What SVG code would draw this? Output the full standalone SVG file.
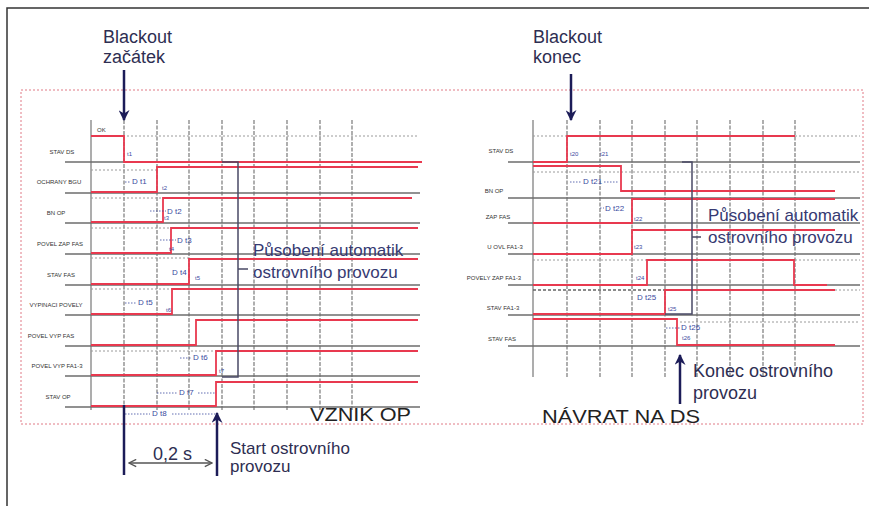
<svg xmlns="http://www.w3.org/2000/svg" width="869" height="506" viewBox="0 0 869 506">
<defs>
<style>
.frame{fill:none;stroke:#333;stroke-width:1.5}
.rframe{fill:none;stroke:#e07a86;stroke-width:1;stroke-dasharray:2,2}
.base{stroke:#6e6e6e;stroke-width:1.6;fill:none}
.vg{stroke:#7a7a7a;stroke-width:1.2;stroke-dasharray:4,1.5;fill:none}
.vs{stroke:#8a8a8a;stroke-width:1.4;fill:none}
.dl{stroke:#9a9a9a;stroke-width:1;stroke-dasharray:2,2;fill:none}
.dd{stroke:#666;stroke-width:1.3;stroke-dasharray:3,2;fill:none}
.sig{stroke:#e8394f;stroke-width:1.8;fill:none}
.br{stroke:#4a4a66;stroke-width:1.5;fill:none}
.arr{stroke:#1c1c58;stroke-width:2.5;fill:none}
.lab{font-family:"Liberation Sans",Arial,sans-serif;font-size:6px;fill:#333;text-anchor:middle}
.sm{font-family:"Liberation Sans",Arial,sans-serif;font-size:6px;fill:#3b4aa0}
.dt{font-family:"Liberation Sans",Arial,sans-serif;font-size:8px;fill:#3b4aa0}
.bl{stroke:#3b4aa0;stroke-width:0.8;stroke-dasharray:1.5,1.5;fill:none}
.big{font-family:"Liberation Sans",Arial,sans-serif;font-size:17px;fill:#363a72}
.nav{font-family:"Liberation Sans",Arial,sans-serif;font-size:18px;fill:#2e2e52}
.ttl{font-family:"Liberation Sans",Arial,sans-serif;font-size:18px;fill:#222}
</style>
<marker id="ah" viewBox="0 0 10 10" refX="9" refY="5" markerWidth="11" markerHeight="11" markerUnits="userSpaceOnUse" orient="auto">
<path d="M0,0 L10,5 L0,10 L3,5 Z" fill="#1c1c58"/>
</marker>
<marker id="ch" viewBox="0 0 10 10" refX="9" refY="5" markerWidth="9" markerHeight="9" markerUnits="userSpaceOnUse" orient="auto-start-reverse">
<path d="M1,1 L9,5 L1,9" fill="none" stroke="#555" stroke-width="1.5"/>
</marker>
</defs>
<rect width="869" height="506" fill="#fff"/>
<path class="frame" d="M7,506 V8 H869"/>
<rect class="rframe" x="21" y="90" width="842" height="334"/>

<!-- LEFT PANEL -->
<g id="left-grid">
<path class="vs" d="M91,120 V410"/>
<path class="vg" d="M124,120 V410 M157,120 V410 M189,120 V410 M222,120 V410 M254,120 V410 M287,120 V410 M320,120 V410 M352,120 V410"/>
<path class="base" d="M65,162 H422 M65,193 H420 M65,223 H420 M65,254 H420 M65,285 H420 M65,315 H420 M65,346 H420 M65,376 H420 M65,407 H420"/>
<path class="dl" d="M91,136 H418 M91,170 H157 M91,198 H163 M91,228 H171 M91,258 H189 M91,289 H172 M91,351 H216"/>
</g>
<g id="left-labels">
<text class="lab" x="62" y="154">STAV DS</text>
<text class="lab" x="59" y="184">OCHRANY BGU</text>
<text class="lab" x="56" y="215">BN OP</text>
<text class="lab" x="60" y="246">POVEL ZAP FAS</text>
<text class="lab" x="61" y="277">STAV FAS</text>
<text class="lab" x="56" y="307">VYPINACI POVELY</text>
<text class="lab" x="51" y="338">POVEL VYP FAS</text>
<text class="lab" x="57" y="368">POVEL VYP FA1-3</text>
<text class="lab" x="58" y="399">STAV OP</text>
<text x="97" y="132" style="font-family:'Liberation Sans',Arial,sans-serif;font-size:6px;fill:#333">OK</text>
</g>
<g id="left-signals">
<path class="sig" d="M91,136 H124 V162 H422"/>
<path class="sig" d="M91,192 H157 V167 H418"/>
<path class="sig" d="M91,222 H163 V198 H412"/>
<path class="sig" d="M91,253 H171 V228 H418"/>
<path class="sig" d="M91,284 H189 V259 H418"/>
<path class="sig" d="M91,314 H172 V289 H418"/>
<path class="sig" d="M91,345 H196 V320 H418"/>
<path class="sig" d="M91,375 H216 V351 H418"/>
<path class="sig" d="M91,406 H216 V382 H418"/>
</g>
<g id="left-deltas">
<text class="sm" x="127" y="156">t1</text>
<path class="bl" d="M125,182 H131"/><text class="dt" x="132" y="184">D t1</text>
<text class="sm" x="162" y="190">t2</text>
<path class="bl" d="M150,211 H166"/><text class="dt" x="167" y="214">D t2</text>
<text class="sm" x="164" y="220">t3</text>
<path class="bl" d="M160,240 H176"/><text class="dt" x="177" y="243">D t3</text>
<text class="sm" x="169" y="251">t4</text>
<text class="dt" x="172" y="275">D t4</text>
<text class="sm" x="195" y="280">t5</text>
<path class="bl" d="M125,303 H137"/><text class="dt" x="138" y="305">D t5</text>
<text class="sm" x="166" y="312">t6</text>
<path class="bl" d="M180,358 H192"/><text class="dt" x="193" y="360">D t6</text>
<text class="sm" x="219" y="373">t7</text>
<path class="bl" d="M157,393 H177 M198,393 H215"/><text class="dt" x="179" y="395">D t7</text>
<path class="bl" d="M125,414 H150 M172,414 H215"/><text class="dt" x="152" y="416">D t8</text>
</g>
<g id="left-bracket">
<path class="br" d="M222,162 H238 V377 H222 M238,269 H248"/>
<text class="big" x="253" y="256">Působení automatik</text>
<text class="big" x="253" y="278">ostrovního provozu</text>
</g>
<g id="blackout-start">
<text class="nav" x="103" y="43">Blackout</text>
<text class="nav" x="103" y="63">začátek</text>
</g>
<g id="start-op">
<text class="nav" x="230" y="454" style="font-size:17px">Start ostrovního</text>
<text class="nav" x="230" y="472" style="font-size:17px">provozu</text>
</g>
<g id="dur">
<text class="nav" x="153" y="460">0,2 s</text>
</g>
<text class="ttl" x="310" y="421" textLength="101" lengthAdjust="spacingAndGlyphs">VZNIK OP</text>

<!-- RIGHT PANEL -->
<g id="right-grid">
<path class="vs" d="M533,120 V377"/>
<path class="vg" d="M567,120 V377 M600,120 V377 M632,120 V377 M665,120 V377 M697,120 V377 M730,120 V377 M763,120 V377 M795,120 V377"/>
<path class="base" d="M508,162 H860 M508,198 H860 M508,223 H860 M508,254 H860 M508,285 H860 M508,315 H860 M508,346 H860"/>
<path class="dl" d="M533,136 H567 M795,136 H860 M533,172 H860 M533,260 H647 M795,260 H860 M835,290 H860 M680,322 H860"/>
<path class="dd" d="M533,290 H665"/>
</g>
<g id="right-labels">
<text class="lab" x="501" y="153">STAV DS</text>
<text class="lab" x="494" y="193">BN OP</text>
<text class="lab" x="498" y="219">ZAP FAS</text>
<text class="lab" x="505" y="249">U OVL FA1-3</text>
<text class="lab" x="494" y="280">POVELY ZAP FA1-3</text>
<text class="lab" x="503" y="310">STAV FA1-3</text>
<text class="lab" x="502" y="341">STAV FAS</text>
</g>
<g id="right-signals">
<path class="sig" d="M533,162 H567 V136 H795"/>
<path class="sig" d="M533,166 H621 V191 H835"/>
<path class="sig" d="M533,223 H632 V199 H835"/>
<path class="sig" d="M533,254 H632 V230 H835"/>
<path class="sig" d="M533,285 H647 V260 H794 V285 H827"/>
<path class="sig" d="M533,314 H665 V290 H835"/>
<path class="sig" d="M533,319 H677 V345 H835"/>
</g>
<g id="right-deltas">
<text class="sm" x="570" y="156">t20</text>
<text class="sm" x="600" y="156">t21</text>
<path class="bl" d="M570,182 H582 M604,182 H618"/><text class="dt" x="583" y="184">D t21</text>
<path class="bl" d="M600,208 H604"/><text class="dt" x="605" y="211">D t22</text>
<text class="sm" x="634" y="221">t22</text>
<text class="sm" x="634" y="249">t23</text>
<text class="sm" x="636" y="280">t24</text>
<text class="dt" x="637" y="300">D t25</text>
<text class="sm" x="668" y="311">t25</text>
<path class="bl" d="M666,328 H680"/><text class="dt" x="681" y="330">D t26</text>
<text class="sm" x="682" y="340">t26</text>
</g>
<g id="right-bracket">
<path class="br" d="M682,162 H692 V314 H665 M692,237 H701"/>
<text class="big" x="708" y="221">Působení automatik</text>
<text class="big" x="708" y="243">ostrovního provozu</text>
</g>
<g id="blackout-end">
<text class="nav" x="533" y="43">Blackout</text>
<text class="nav" x="533" y="63">konec</text>
</g>
<g id="end-op">
<text class="nav" x="693" y="377">Konec ostrovního</text>
<text class="nav" x="693" y="399">provozu</text>
</g>
<text class="ttl" x="542" y="423" textLength="158" lengthAdjust="spacingAndGlyphs">NÁVRAT NA DS</text>

<g id="connectors">
<path class="arr" d="M124,70 V120" marker-end="url(#ah)"/>
<path class="arr" d="M571,74 V120" marker-end="url(#ah)"/>
<path class="arr" d="M124,405 V475"/>
<path class="arr" d="M217,476 V413" marker-end="url(#ah)"/>
<path class="arr" d="M680,404 V355" marker-end="url(#ah)"/>
<path d="M129,463 H212" stroke="#555" stroke-width="1.3" fill="none" marker-start="url(#ch)" marker-end="url(#ch)"/>
</g>
</svg>
